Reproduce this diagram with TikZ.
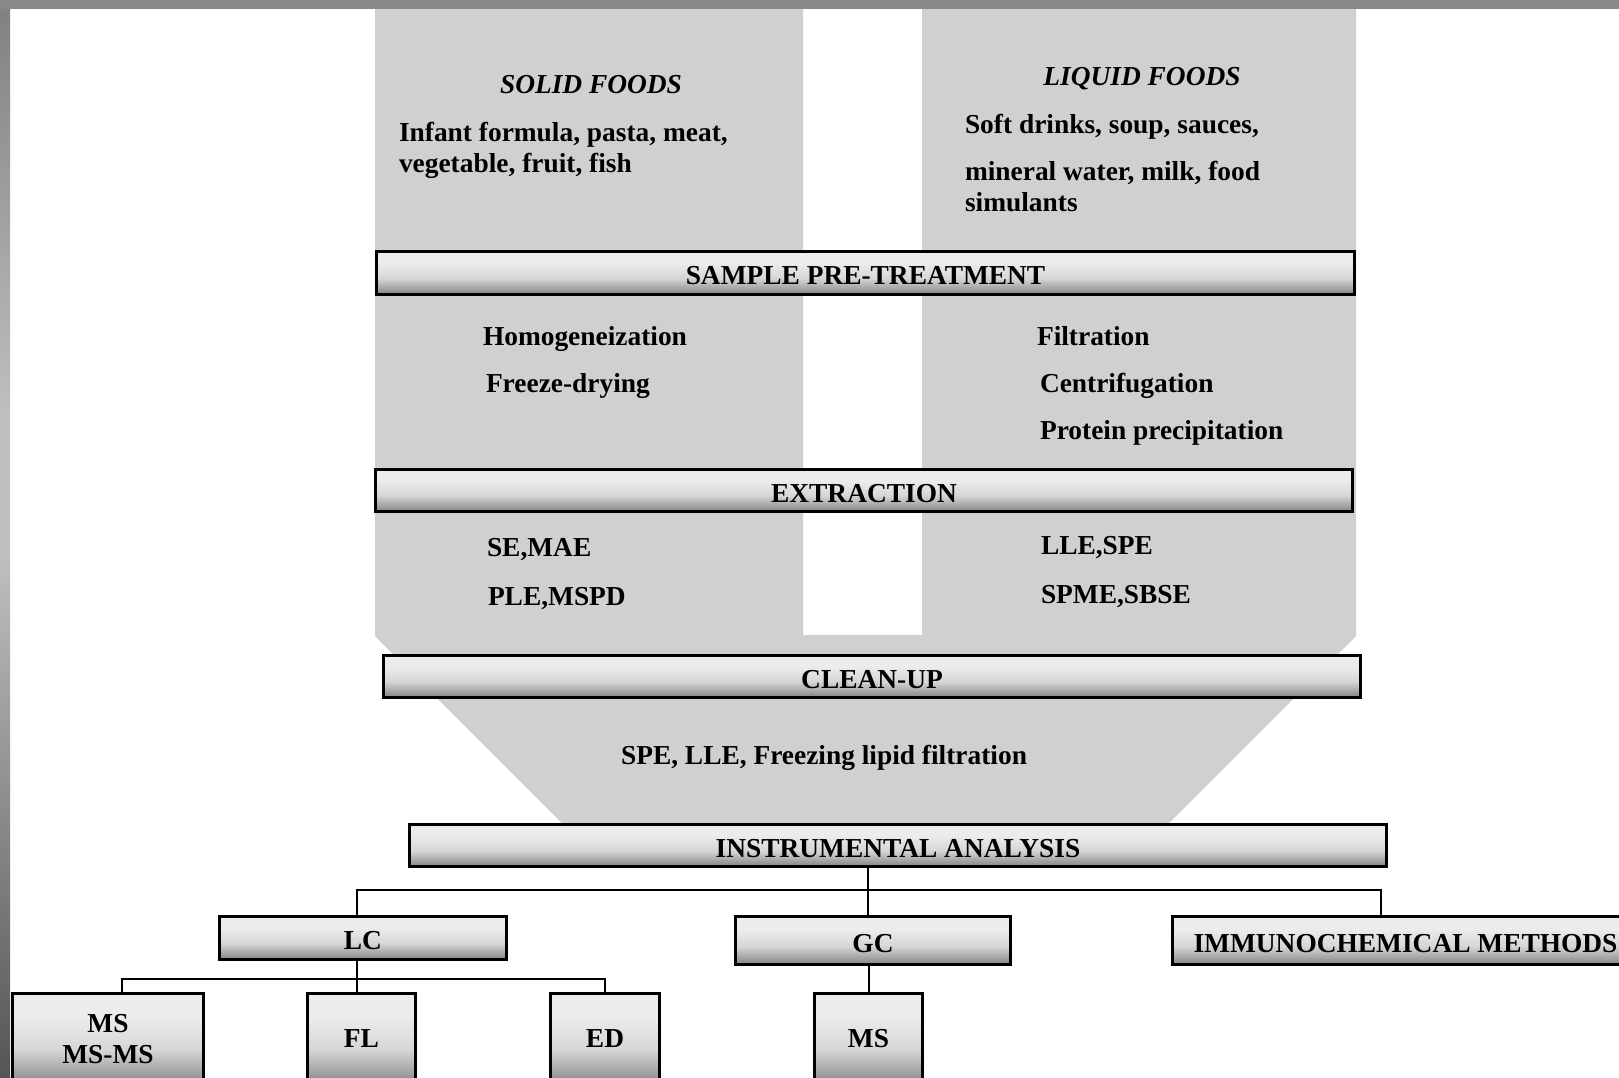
\documentclass[tikz,border=0pt]{standalone}
\usepackage{fontspec}
\setmainfont{Liberation Serif}
\definecolor{panel}{RGB}{208,208,208}
\definecolor{blight}{RGB}{236,236,236}
\definecolor{bmid}{RGB}{214,214,214}
\definecolor{bdark}{RGB}{132,132,132}
\definecolor{topbar}{RGB}{136,136,136}
\definecolor{lbtop}{RGB}{128,128,128}
\definecolor{lbmid}{RGB}{190,190,190}
\definecolor{lbbot}{RGB}{85,85,85}
\pgfdeclareverticalshading{barshade}{100bp}{color(0bp)=(bdark); color(25bp)=(bdark); color(44bp)=(bmid); color(62bp)=(blight); color(75bp)=(blight); color(100bp)=(blight)}
\pgfdeclareverticalshading{leftshade}{100bp}{color(0bp)=(lbbot); color(25bp)=(lbbot); color(49bp)=(lbmid); color(56bp)=(lbmid); color(75bp)=(lbtop); color(100bp)=(lbtop)}
\newcommand\bodyfont{\fontsize{27.4}{31}\selectfont\bfseries}
\tikzset{
  bar/.style={draw=black, line width=3.5pt, shade, shading=barshade, inner sep=0pt, outer sep=0pt, font=\bodyfont, align=center},
  onebar/.style={bar, text height=23pt, text depth=0pt},
  conn/.style={draw=black, line width=2pt},
  txt/.style={font=\bodyfont, inner sep=0pt, outer sep=0pt, anchor=base west},
  head/.style={font=\bodyfont\itshape, inner sep=0pt, outer sep=0pt, anchor=base},
}
\begin{document}
\begin{tikzpicture}[x=1pt,y=-1pt]
\useasboundingbox (0,0) rectangle (1619,1077);
\clip (0,0) rectangle (1619,1077);
\fill[white] (0,0) rectangle (1619,1077);
% grey funnel panels
\fill[panel] (375,0) -- (803,0) -- (803,635) -- (922,635) -- (922,0) -- (1356,0) -- (1356,636) -- (1169,823) -- (562,823) -- (375,636) -- cycle;
% frame
\shade[shading=leftshade] (0,0) rectangle (10,1077);
\fill[topbar] (0,0) rectangle (1619,9);
% headings and texts
\node[head] (solid) at (591,93) {SOLID FOODS};
\node[txt] (solid1) at (399,141) {Infant formula, pasta, meat,};
\node[txt] (solid2) at (399,172) {vegetable, fruit, fish};
\node[head] (liquid) at (1142,85) {LIQUID FOODS};
\node[txt] (liq1) at (965,133) {Soft drinks, soup, sauces,};
\node[txt] (liq2) at (965,180) {mineral water, milk, food};
\node[txt] (liq3) at (965,211) {simulants};
\node[onebar, minimum width=978pt, minimum height=43pt] (pre) at (865.5,273) {SAMPLE PRE-TREATMENT};
\node[txt] (homo) at (483,345) {Homogeneization};
\node[txt] (freeze) at (486,392) {Freeze-drying};
\node[txt] (filt) at (1037,345) {Filtration};
\node[txt] (centr) at (1040,392) {Centrifugation};
\node[txt] (prot) at (1040,439) {Protein precipitation};
\node[onebar, minimum width=977pt, minimum height=42pt] (ext) at (864,490.5) {EXTRACTION};
\node[txt] (se) at (487,556) {SE,MAE};
\node[txt] (ple) at (488,605) {PLE,MSPD};
\node[txt] (lle) at (1041,554) {LLE,SPE};
\node[txt] (spme) at (1041,603) {SPME,SBSE};
\node[onebar, minimum width=977pt, minimum height=42pt] (clean) at (872,676.5) {CLEAN-UP};
\node[txt, anchor=base] (cleantxt) at (824,764) {SPE, LLE, Freezing lipid filtration};
\node[onebar, minimum width=977pt, minimum height=42pt] (instr) at (898,845.5) {INSTRUMENTAL ANALYSIS};
% analysis tree
\node[onebar, minimum width=287pt, minimum height=43pt] (lc) at (363,938) {LC};
\node[onebar, minimum width=275pt, minimum height=48pt] (gc) at (873,940.5) {GC};
\node[onebar, minimum width=466pt, minimum height=48pt] (im) at (1405.5,940.5) {IMMUNOCHEMICAL METHODS};
\node[bar, minimum width=191pt, minimum height=91pt] (ms1) at (108,1039) {MS\\MS-MS};
\node[bar, minimum width=108pt, minimum height=91pt] (fl) at (361.5,1039) {FL};
\node[bar, minimum width=109pt, minimum height=91pt] (ed) at (605,1039) {ED};
\node[bar, minimum width=108pt, minimum height=91pt] (ms2) at (868.5,1039) {MS};
\coordinate (bus) at (0,890);
\coordinate (lcbus) at (0,979);
\draw[conn] ([xshift=-30pt]instr.south) -- ([xshift=-30pt]instr.south |- bus);
\draw[conn] ([xshift=-6pt]lc.north) |- ([xshift=-25pt]im.north |- bus) -- ([xshift=-25pt]im.north);
\draw[conn] ([xshift=-5pt]gc.north) -- ([xshift=-5pt]gc.north |- bus);
\draw[conn] (gc.south -| ms2.north) -- (ms2.north);
\draw[conn] ([xshift=-6pt]lc.south) -- ([xshift=-6pt]lc.south |- lcbus);
\draw[conn] ([xshift=14pt]ms1.north) |- (ed.north |- lcbus) -- (ed.north);
\draw[conn] ([xshift=-4.5pt]fl.north) -- ([xshift=-4.5pt]fl.north |- lcbus);
\end{tikzpicture}
\end{document}
